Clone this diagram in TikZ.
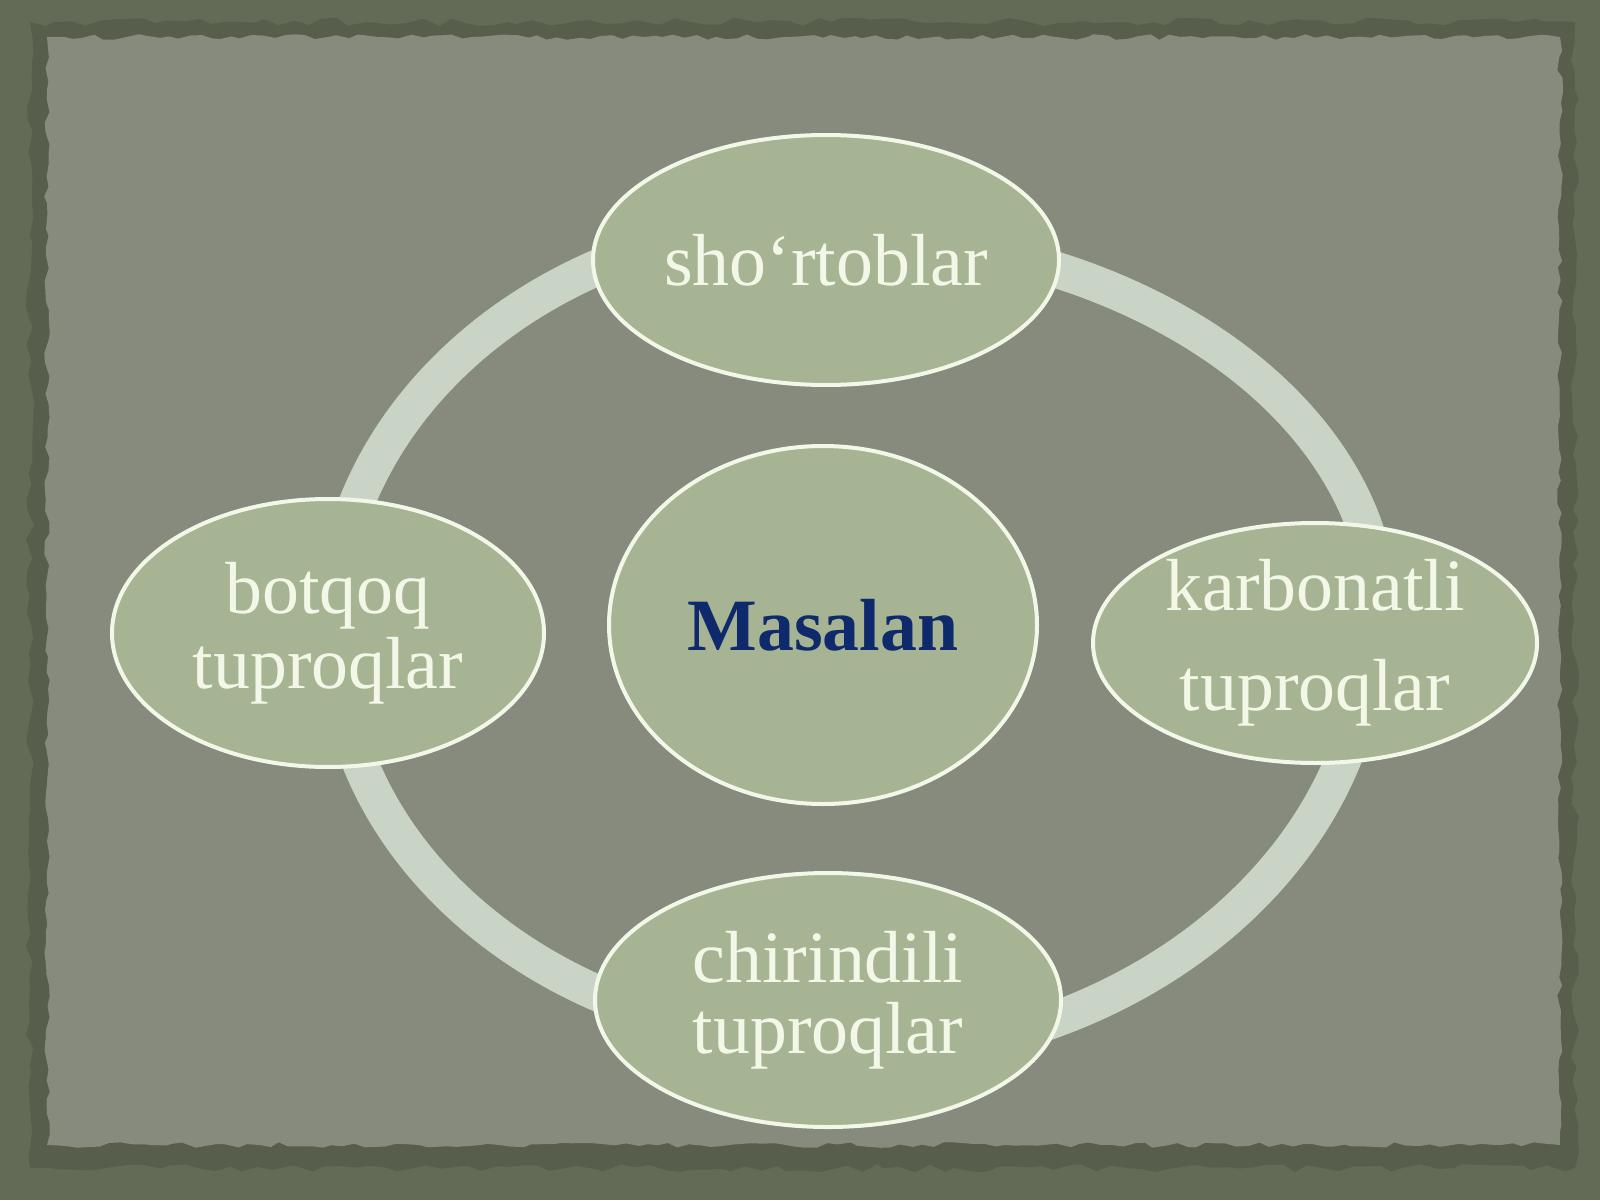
\documentclass[tikz,border=0pt]{standalone}
\usepackage{fontspec}
\setmainfont{Liberation Serif}
\usetikzlibrary{shapes.geometric,decorations.pathmorphing}
\definecolor{frameout}{HTML}{636A56}
\definecolor{frameshade}{HTML}{575E4B}
\definecolor{panel}{HTML}{878B7E}
\definecolor{sage}{HTML}{A7B493}
\definecolor{ringc}{HTML}{C9D4C6}
\definecolor{rim}{HTML}{F3F7E8}
\definecolor{navy}{HTML}{0E2A6C}
\begin{document}
\begin{tikzpicture}[
  bubble/.style={ellipse, draw=rim, line width=0.04cm, fill=sage, inner sep=0pt, text=rim, align=center},
  ring/.style={draw=ringc, line width=0.36cm}
]
\pgfmathsetseed{11}
\useasboundingbox (0,0) rectangle (16,12);
\fill[frameout] (0,0) rectangle (16,12);
\fill[frameshade, decorate, decoration={random steps, segment length=4pt, amplitude=1.2pt}]
  (0.3,0.32) -- (15.75,0.32) -- (15.75,11.78) -- (0.3,11.78) -- cycle;
\fill[panel, decorate, decoration={random steps, segment length=3pt, amplitude=0.8pt}]
  (0.47,0.55) -- (15.6,0.55) -- (15.6,11.63) -- (0.47,11.63) -- cycle;
% ring, drawn as four quarter arcs (their ends lie under the bubbles)
\coordinate (qtl) at (8.25,5.65);
\coordinate (qtr) at (8.25,5.80);
\coordinate (qbr) at (8.35,5.80);
\coordinate (qbl) at (8.35,5.65);
\draw[ring] (qtl) ++(90:4.94 and 4.14) arc[start angle=90, end angle=180, x radius=4.94, y radius=4.14];
\draw[ring] (qtr) ++(0:5.56 and 3.85) arc[start angle=0, end angle=90, x radius=5.56, y radius=3.85];
\draw[ring] (qbr) ++(270:5.36 and 4.38) arc[start angle=270, end angle=360, x radius=5.36, y radius=4.38];
\draw[ring] (qbl) ++(180:5.00 and 4.07) arc[start angle=180, end angle=270, x radius=5.00, y radius=4.07];
\node[bubble, minimum width=4.66cm, minimum height=2.5cm, font=\fontsize{21}{25}\selectfont] (top) at (8.26,9.40) {sho‘rtoblar};
\node[bubble, minimum width=4.28cm, minimum height=3.58cm, text=navy, font=\fontsize{21}{25}\selectfont\bfseries] (mid) at (8.23,5.75) {Masalan};
\node[bubble, minimum width=4.32cm, minimum height=2.68cm, font=\fontsize{21}{21.3}\selectfont] (left) at (3.28,5.67) {botqoq\\tuproqlar};
\node[bubble, minimum width=4.44cm, minimum height=2.40cm, font=\fontsize{21}{28.5}\selectfont] (right) at (13.15,5.57) {karbonatli\\tuproqlar};
\node[bubble, minimum width=4.66cm, minimum height=2.54cm, font=\fontsize{21}{20.2}\selectfont] (bot) at (8.28,2.00) {chirindili\\tuproqlar};
\end{tikzpicture}
\end{document}
